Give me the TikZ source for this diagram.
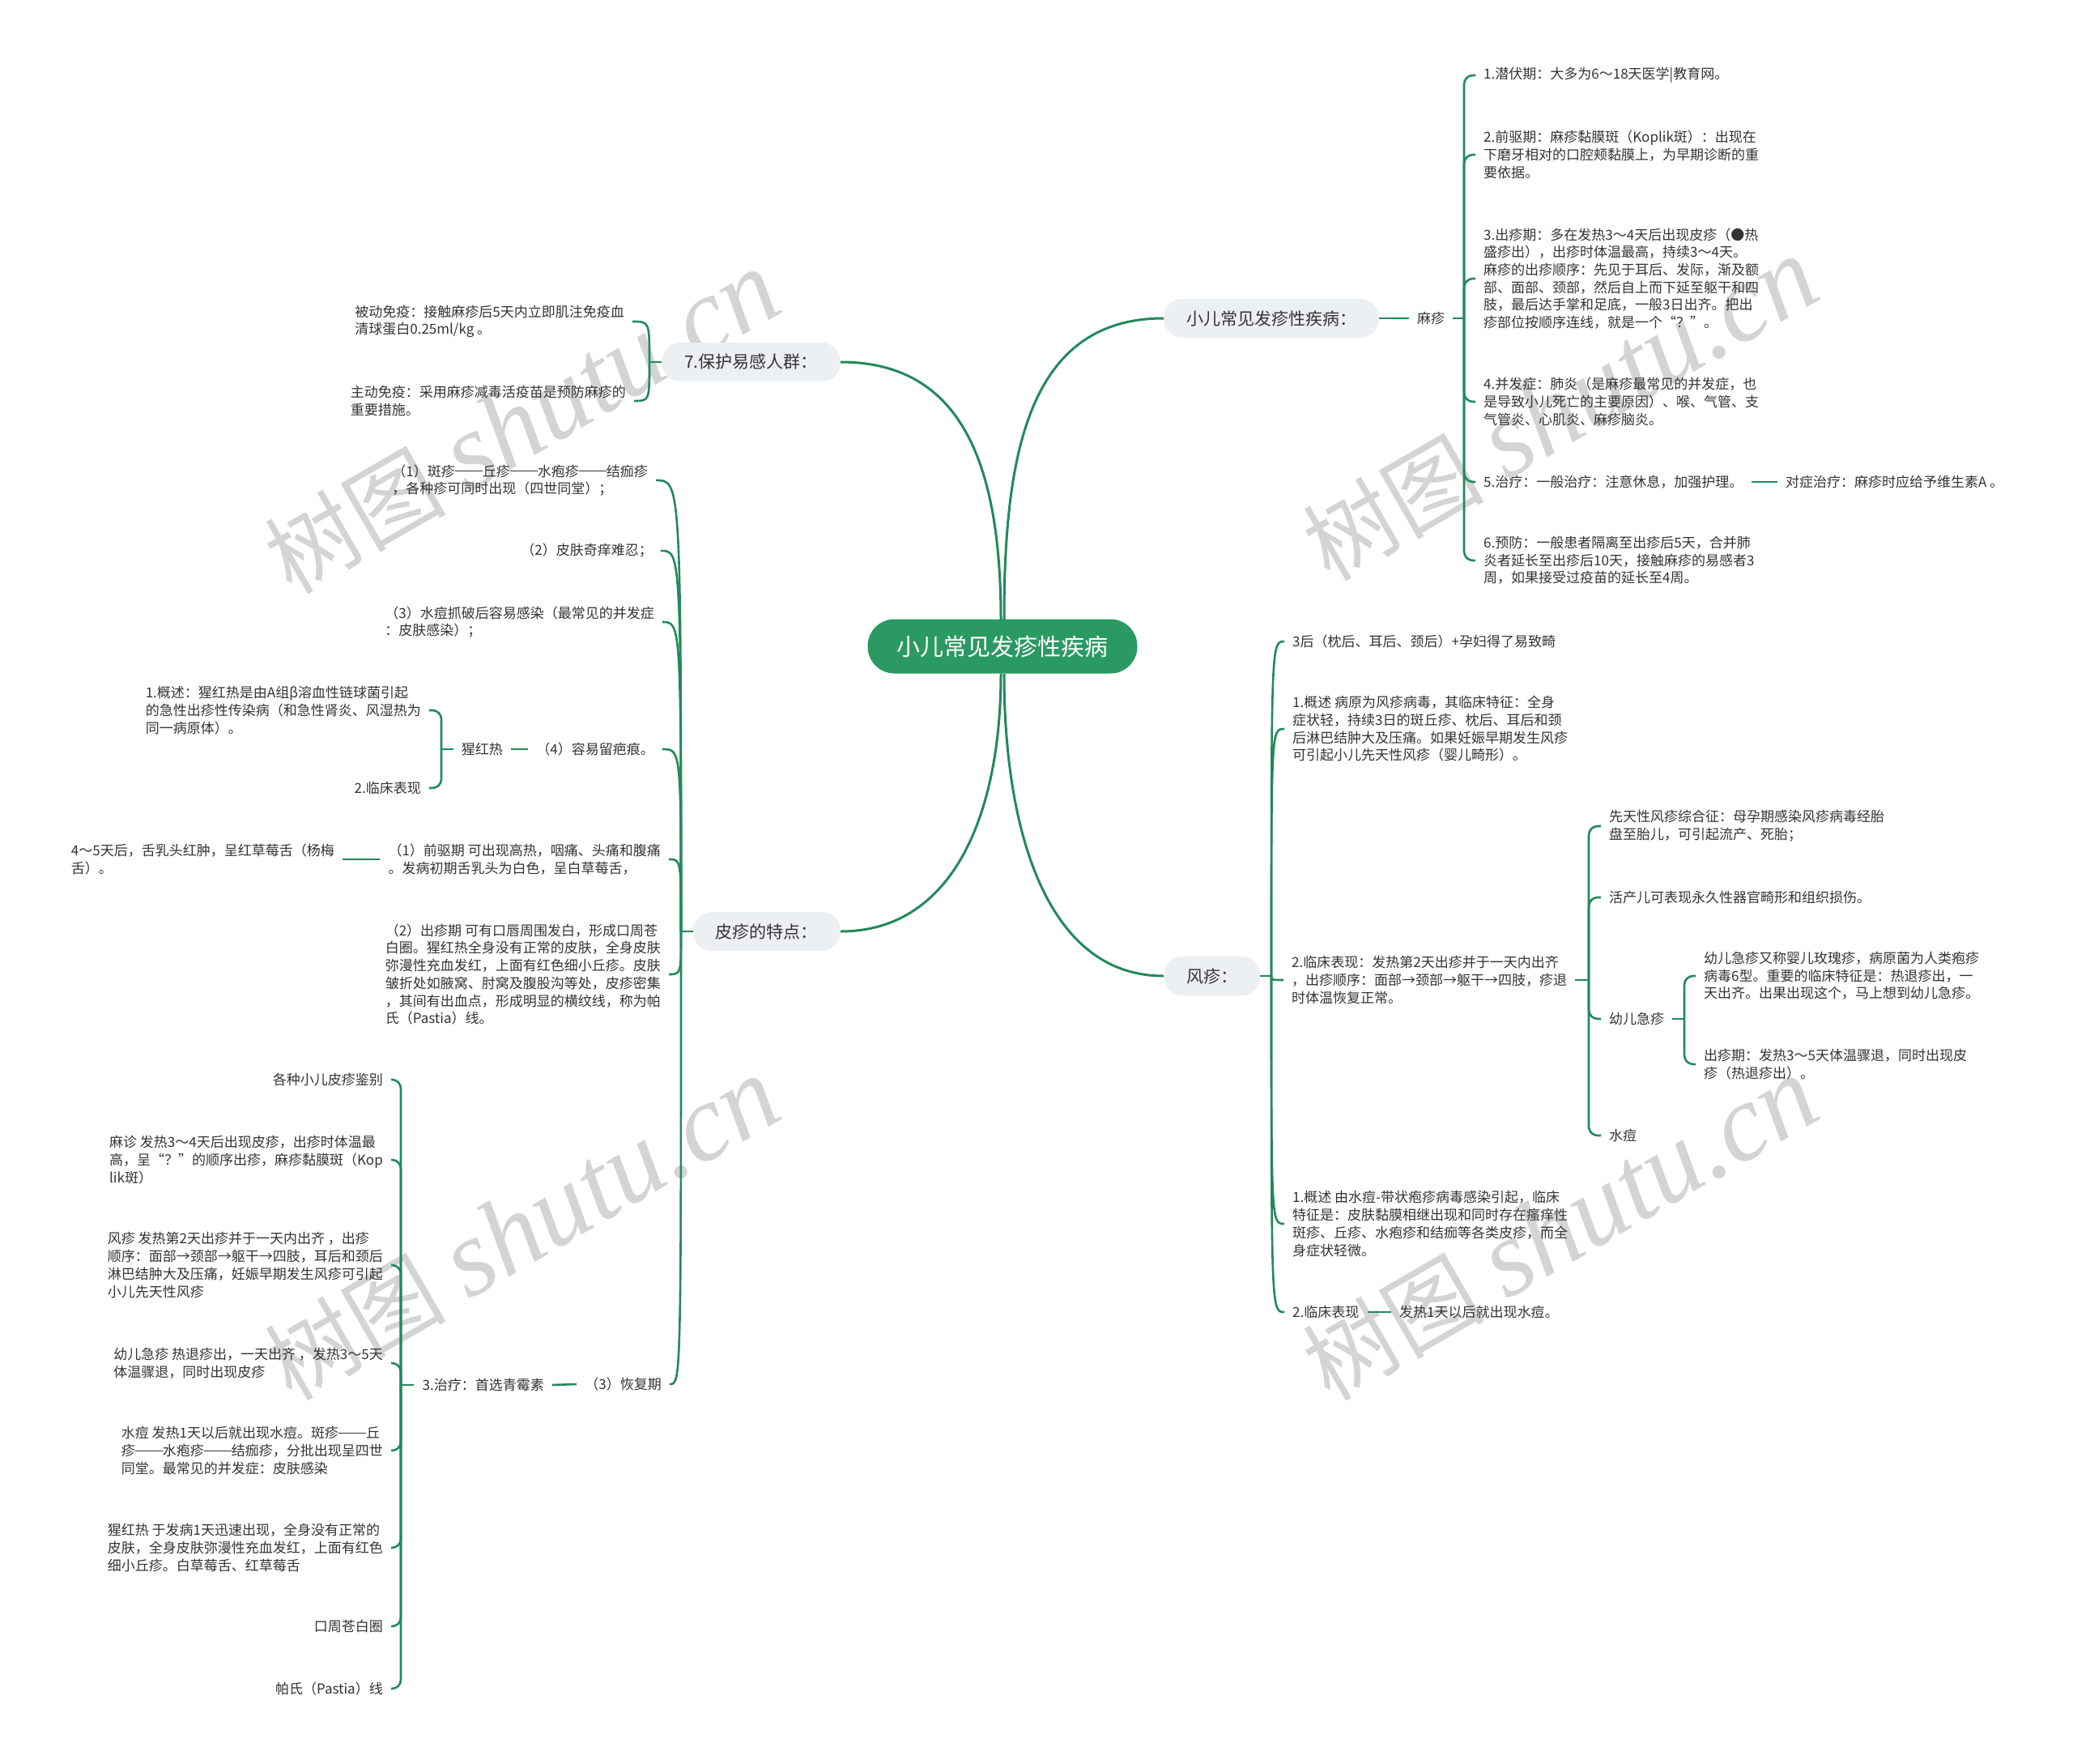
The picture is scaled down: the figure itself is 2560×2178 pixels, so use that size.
\documentclass[tikz,border=0pt]{standalone}
\usepackage{fontspec}
\setmainfont{Noto Sans CJK SC}
\newfontfamily\wmfont{Liberation Serif}
\definecolor{lc}{HTML}{23895A}
\definecolor{rootc}{HTML}{2B9A62}
\definecolor{bubc}{HTML}{EDF0F3}
\definecolor{txt}{HTML}{333333}
\newcommand\wmtext{{\fontsize{112}{112}\selectfont 树图\hspace{0.25em}}{\fontsize{135}{135}\selectfont\wmfont\itshape shutu.cn}}
\newcommand\cjkdash{\rule[0.34em]{2em}{0.06em}}
\tikzset{
  leaf/.style={font={\fontsize{17}{21.7}\selectfont}, text=txt, inner xsep=10pt, inner ysep=3pt, align=left},
  bub/.style={fill=bubc, rounded corners=23pt, minimum height=48pt, inner xsep=28pt, font={\fontsize{21}{25}\selectfont}, text=txt},
  rootnode/.style={fill=rootc, rounded corners=33pt, minimum height=67pt, minimum width=333pt, font={\fontsize{29}{34}\selectfont}, text=white},
  conn/.style={draw=lc, line width=2.6pt},
  mainconn/.style={draw=lc, line width=3pt},
  rb/.style={conn, rounded corners=11pt},
  wm/.style={text=black!17, inner sep=0pt}
}
\begin{document}
\begin{tikzpicture}[x=1pt,y=-1pt]
\useasboundingbox (0,0) rectangle (2560,2178);
\fill[white] (0,0) rectangle (2560,2178);
% watermarks
\node[wm, rotate=30] (wm1) at (645,522) {\wmtext};
\node[wm, rotate=30] (wm2) at (1927,506) {\wmtext};
\node[wm, rotate=30] (wm3) at (645,1518) {\wmtext};
\node[wm, rotate=30] (wm4) at (1927,1518) {\wmtext};

% root
\node[rootnode] (root) at (1238,798) {小儿常见发疹性疾病};

% level 1 bubbles
\node[bub, anchor=west] (b1) at (1437,393) {小儿常见发疹性疾病：};
\node[bub, anchor=east] (b7) at (1038,447) {7.保护易感人群：};
\node[bub, anchor=east] (b8) at (1038,1150) {皮疹的特点：};
\node[bub, anchor=west] (b9) at (1437,1205) {风疹：};

\draw[mainconn] (1240,765) .. controls (1240,560) and (1270,393) .. (b1.west);
\draw[mainconn] (1236,765) .. controls (1236,560) and (1180,447) .. (b7.east);
\draw[mainconn] (1240,832) .. controls (1240,1020) and (1290,1205) .. (b9.west);
\draw[mainconn] (1236,832) .. controls (1236,1000) and (1180,1150) .. (b8.east);

% ---------- 麻疹 ----------
\node[leaf, anchor=west] (mz) at (1740,393) {麻疹};
\node[leaf, anchor=west] (m1) at (1822,93) {1.潜伏期：大多为6～18天医学|教育网。};
\node[leaf, anchor=west] (m2) at (1822,191) {2.前驱期：麻疹黏膜斑（Koplik斑）：出现在\\下磨牙相对的口腔颊黏膜上，为早期诊断的重\\要依据。};
\node[leaf, anchor=west] (m3) at (1822,344) {3.出疹期：多在发热3～4天后出现皮疹（●热\\盛疹出），出疹时体温最高，持续3～4天。\\麻疹的出疹顺序：先见于耳后、发际，渐及额\\部、面部、颈部，然后自上而下延至躯干和四\\肢，最后达手掌和足底，一般3日出齐。把出\\疹部位按顺序连线，就是一个“？”。};
\node[leaf, anchor=west] (m4) at (1822,496) {4.并发症：肺炎（是麻疹最常见的并发症，也\\是导致小儿死亡的主要原因）、喉、气管、支\\气管炎、心肌炎、麻疹脑炎。};
\node[leaf, anchor=west] (m5) at (1822,595) {5.治疗：一般治疗：注意休息，加强护理。};
\node[leaf, anchor=west] (m5a) at (2195,595) {对症治疗：麻疹时应给予维生素A 。};
\node[leaf, anchor=west] (m6) at (1822,692) {6.预防：一般患者隔离至出疹后5天，合并肺\\炎者延长至出疹后10天，接触麻疹的易感者3\\周，如果接受过疫苗的延长至4周。};

\draw[conn] (b1.east) -- (mz.west);
\coordinate (mzb) at (1808,393);
\draw[conn] (mz.east) -- (mzb);
\foreach \c in {m1,m2,m3,m4,m5,m6} {\draw[rb] (mzb) |- (\c.west);}
\draw[conn] (m5.east) -- (m5a.west);

% ---------- 7.保护易感人群 ----------
\node[leaf, anchor=east] (p1) at (781,397) {被动免疫：接触麻疹后5天内立即肌注免疫血\\清球蛋白0.25ml/kg 。};
\node[leaf, anchor=east] (p2) at (783,495) {主动免疫：采用麻疹减毒活疫苗是预防麻疹的\\重要措施。};
\coordinate (pb) at (802,447);
\draw[conn] (b7.west) -- (pb);
\foreach \c in {p1,p2} {\draw[conn] (pb) .. controls (pb |- \c.east) .. (\c.east);}

% ---------- 皮疹的特点 ----------
\node[leaf, anchor=east] (s1) at (810,593) {（1）斑疹\cjkdash 丘疹\cjkdash 水疱疹\cjkdash 结痂疹\\，各种疹可同时出现（四世同堂）；};
\node[leaf, anchor=east] (s2) at (816,680) {（2）皮肤奇痒难忍；};
\node[leaf, anchor=east] (s3) at (818,768) {（3）水痘抓破后容易感染（最常见的并发症\\：皮肤感染）；};
\node[leaf, anchor=east] (s4) at (818,925) {（4）容易留疤痕。};
\node[leaf, anchor=east] (s5) at (826,1061) {（1）前驱期 可出现高热，咽痛、头痛和腹痛\\。发病初期舌乳头为白色，呈白草莓舌，};
\node[leaf, anchor=east] (s6) at (826,1203) {（2）出疹期 可有口唇周围发白，形成口周苍\\白圈。猩红热全身没有正常的皮肤，全身皮肤\\弥漫性充血发红，上面有红色细小丘疹。皮肤\\皱折处如腋窝、肘窝及腹股沟等处，皮疹密集\\，其间有出血点，形成明显的横纹线，称为帕\\氏（Pastia）线。};
\node[leaf, anchor=east] (s7) at (827,1709) {（3）恢复期};
\coordinate (sb) at (841,1150);
\draw[conn] (b8.west) -- (sb);
\foreach \c in {s1,s2,s3,s4,s5,s6,s7} {\draw[conn] (sb) .. controls (sb |- \c.east) .. (\c.east);}

% 猩红热
\node[leaf, anchor=east] (xh) at (631,925) {猩红热};
\node[leaf, anchor=east] (xh1) at (530,877) {1.概述：猩红热是由A组β溶血性链球菌引起\\的急性出疹性传染病（和急性肾炎、风湿热为\\同一病原体）。};
\node[leaf, anchor=east] (xh2) at (530,973) {2.临床表现};
\draw[conn] (s4.west) -- (xh.east);
\coordinate (xhb) at (545,925);
\draw[conn] (xh.west) -- (xhb);
\foreach \c in {xh1,xh2} {\draw[rb] (xhb) |- (\c.east);}

% 前驱期 child
\node[leaf, anchor=east] (s5a) at (423,1061) {4～5天后，舌乳头红肿，呈红草莓舌（杨梅\\舌）。};
\draw[conn] (s5.west) -- (s5a.east);

% 治疗
\node[leaf, anchor=east] (zl) at (682,1710) {3.治疗：首选青霉素};
\draw[conn] (s7.west) -- (zl.east);
\coordinate (zb) at (495,1710);
\draw[conn] (zl.west) -- (zb);
\node[leaf, anchor=east] (z1) at (483,1333) {各种小儿皮疹鉴别};
\node[leaf, anchor=east] (z2) at (483,1432) {麻诊 发热3～4天后出现皮疹，出疹时体温最\\高，呈“？”的顺序出疹，麻疹黏膜斑（Kop\\lik斑）};
\node[leaf, anchor=east] (z3) at (483,1562) {风疹 发热第2天出疹并于一天内出齐 ，出疹\\顺序：面部→颈部→躯干→四肢，耳后和颈后\\淋巴结肿大及压痛，妊娠早期发生风疹可引起\\小儿先天性风疹};
\node[leaf, anchor=east] (z4) at (483,1683) {幼儿急疹 热退疹出，一天出齐 ，发热3～5天\\体温骤退，同时出现皮疹};
\node[leaf, anchor=east] (z5) at (483,1791) {水痘 发热1天以后就出现水痘。斑疹\cjkdash 丘\\疹\cjkdash 水疱疹\cjkdash 结痂疹，分批出现呈四世\\同堂。最常见的并发症：皮肤感染};
\node[leaf, anchor=east] (z6) at (483,1911) {猩红热 于发病1天迅速出现，全身没有正常的\\皮肤，全身皮肤弥漫性充血发红，上面有红色\\细小丘疹。白草莓舌、红草莓舌};
\node[leaf, anchor=east] (z7) at (483,2008) {口周苍白圈};
\node[leaf, anchor=east] (z8) at (483,2085) {帕氏（Pastia）线};
\foreach \c in {z1,z2,z3,z4,z5,z6,z7,z8} {\draw[rb] (zb) |- (\c.east);}

% ---------- 风疹 ----------
\coordinate (fb) at (1570,1205);
\draw[conn] (b9.east) -- (fb);
\node[leaf, anchor=west] (f1) at (1586,792) {3后（枕后、耳后、颈后）+孕妇得了易致畸};
\node[leaf, anchor=west] (f2) at (1586,900) {1.概述 病原为风疹病毒，其临床特征：全身\\症状轻，持续3日的斑丘疹、枕后、耳后和颈\\后淋巴结肿大及压痛。如果妊娠早期发生风疹\\可引起小儿先天性风疹（婴儿畸形）。};
\node[leaf, anchor=west] (f3) at (1585,1210) {2.临床表现：发热第2天出疹并于一天内出齐\\，出疹顺序：面部→颈部→躯干→四肢，疹退\\时体温恢复正常。};
\node[leaf, anchor=west] (f4) at (1586,1511) {1.概述 由水痘-带状疱疹病毒感染引起，临床\\特征是：皮肤黏膜相继出现和同时存在瘙痒性\\斑疹、丘疹、水疱疹和结痂等各类皮疹，而全\\身症状轻微。};
\node[leaf, anchor=west] (f5) at (1586,1620) {2.临床表现};
\node[leaf, anchor=west] (f5a) at (1718,1620) {发热1天以后就出现水痘。};
\foreach \c in {f1,f2,f3,f4,f5} {\draw[conn] (fb) .. controls (fb |- \c.west) .. (\c.west);}
\draw[conn] (f5.east) -- (f5a.west);

% 2.临床表现 children
\coordinate (gb) at (1962,1210);
\draw[conn] (f3.east) -- (gb);
\node[leaf, anchor=west] (g1) at (1977,1020) {先天性风疹综合征：母孕期感染风疹病毒经胎\\盘至胎儿，可引起流产、死胎；};
\node[leaf, anchor=west] (g2) at (1977,1108) {活产儿可表现永久性器官畸形和组织损伤。};
\node[leaf, anchor=west] (g3) at (1977,1258) {幼儿急疹};
\node[leaf, anchor=west] (g4) at (1977,1402) {水痘};
\foreach \c in {g1,g2,g3,g4} {\draw[rb] (gb) |- (\c.west);}

\coordinate (hb) at (2080,1258);
\draw[conn] (g3.east) -- (hb);
\node[leaf, anchor=west] (h1) at (2094,1205) {幼儿急疹又称婴儿玫瑰疹，病原菌为人类疱疹\\病毒6型。重要的临床特征是：热退疹出，一\\天出齐。出果出现这个，马上想到幼儿急疹。};
\node[leaf, anchor=west] (h2) at (2094,1314) {出疹期：发热3～5天体温骤退，同时出现皮\\疹（热退疹出）。};
\foreach \c in {h1,h2} {\draw[rb] (hb) |- (\c.west);}
\end{tikzpicture}
\end{document}
